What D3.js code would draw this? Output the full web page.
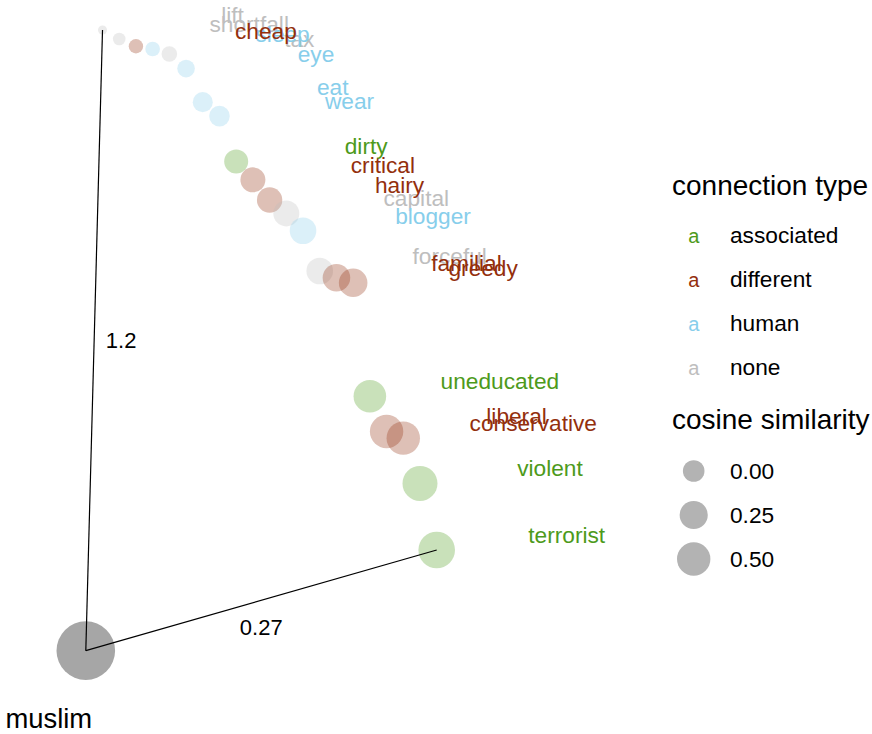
<!DOCTYPE html>
<html>
<head>
<meta charset="utf-8">
<script src="https://cdn.jsdelivr.net/npm/d3@7"></script>
<style>
  html, body { margin: 0; padding: 0; background: #fff; }
  svg { display: block; font-family: "Liberation Sans", Arial, sans-serif; }
</style>
</head>
<body>
<svg id="chart" width="872" height="734"></svg>
<script>
// ---------------- data ----------------
const focusWord = "muslim";
const focusDistance = 0.09;            // layout position of the focus word
const words = ["lift","shortfall","cheap","sleep","tax","eye","eat","wear","dirty","critical",
  "hairy","capital","blogger","forceful","familial","greedy","uneducated","liberal","conservative","violent","terrorist"];
const types = ["none","none","different","human","none","human","human","human","associated","different",
  "different","none","human","none","different","different","associated","different","different","associated","associated"];
const distances = [1.2,1.184,1.171,1.166,1.157,1.131,1.071,1.046,0.965,0.932,
  0.896,0.872,0.841,0.769,0.757,0.748,0.545,0.482,0.470,0.389,0.27];
const similarities = [-0.297,-0.237,-0.2,-0.195,-0.172,-0.121,-0.051,-0.032,0.084,0.122,
  0.137,0.161,0.186,0.186,0.227,0.27,0.459,0.5,0.5,0.584,0.672];
const typeNames = ["associated","different","human","none"];
const typeColors = ["#4d9a1b","#932f0d","#87ceeb","#bebebe"];
const sizeBreaks = [0.00, 0.25, 0.50];

// ---------------- setup ----------------
const svg = d3.select("#chart");
const data = words.map((w, i) => ({word: w, type: types[i], dist: distances[i], sim: similarities[i], rank: i + 1}));

const x = d3.scaleLinear().domain([0, words.length]).range([85.8, 436.7]);
const y = d3.scaleLinear().domain([0.27, 1.2]).range([550, 30]);
const r = d3.scaleRadial().domain([0, 0.5]).range([10.8, 16.7]);
const color = d3.scaleOrdinal().domain(typeNames).range(typeColors);

const focus = {x: x(0), y: y(focusDistance)};

// focus node
svg.append("circle").attr("cx", focus.x).attr("cy", focus.y).attr("r", 29.3).attr("fill", "#a6a6a6");

// word nodes
svg.append("g").selectAll("circle").data(data).join("circle")
  .attr("cx", d => x(d.rank)).attr("cy", d => y(d.dist)).attr("r", d => r(d.sim))
  .attr("fill", d => color(d.type)).attr("fill-opacity", 0.3);

// edges to farthest and nearest words
const far = data.reduce((a, b) => (b.dist > a.dist ? b : a));
const near = data.reduce((a, b) => (b.dist < a.dist ? b : a));
const edges = [far, near];
const eg = svg.append("g");
edges.forEach(d => {
  const ex = x(d.rank), ey = y(d.dist);
  eg.append("line").attr("x1", focus.x).attr("y1", focus.y).attr("x2", ex).attr("y2", ey)
    .attr("stroke", "#000").attr("stroke-width", 1.2);
  const mx = (focus.x + ex) / 2, my = (focus.y + ey) / 2;
  const vertical = Math.abs(ey - focus.y) > Math.abs(ex - focus.x);
  eg.append("text")
    .attr("x", vertical ? mx + 27 : mx)
    .attr("y", vertical ? my : my + 27.5)
    .attr("text-anchor", "middle").attr("dominant-baseline", "central")
    .attr("font-size", 22).attr("fill", "#000")
    .text(String(+d.dist.toFixed(2)));
});

// word labels (drawn by type order)
const drawOrder = ["none","human","associated","different"];
const labelData = data.slice().sort((a, b) => drawOrder.indexOf(a.type) - drawOrder.indexOf(b.type) || a.rank - b.rank);
svg.append("g").selectAll("text").data(labelData).join("text")
  .attr("x", d => x(d.rank) + 130).attr("y", d => y(d.dist) - 7)
  .attr("text-anchor", "middle").attr("font-size", 22.7)
  .attr("fill", d => color(d.type)).text(d => d.word);

// focus label
svg.append("text").attr("x", focus.x - 37).attr("y", focus.y + 77)
  .attr("text-anchor", "middle").attr("font-size", 27.4).attr("fill", "#000").text(focusWord);

// ---------------- legends ----------------
const lg = svg.append("g");
lg.append("text").attr("x", 672).attr("y", 195).attr("font-size", 28).attr("fill", "#000").text("connection type");
typeNames.forEach((t, i) => {
  const by = 242.7 + i * 44.1;
  lg.append("text").attr("x", 693.8).attr("y", by).attr("text-anchor", "middle").attr("font-size", 20)
    .attr("fill", color(t)).text("a");
  lg.append("text").attr("x", 730).attr("y", by).attr("font-size", 22.7).attr("fill", "#000").text(t);
});
lg.append("text").attr("x", 672).attr("y", 429).attr("font-size", 28).attr("fill", "#000").text("cosine similarity");
sizeBreaks.forEach((v, i) => {
  const cy = 471 + i * 44;
  lg.append("circle").attr("cx", 693.7).attr("cy", cy).attr("r", r(v)).attr("fill", "#b3b3b3");
  lg.append("text").attr("x", 730).attr("y", cy + 8.3).attr("font-size", 22.7).attr("fill", "#000").text(v.toFixed(2));
});
</script>
</body>
</html>
